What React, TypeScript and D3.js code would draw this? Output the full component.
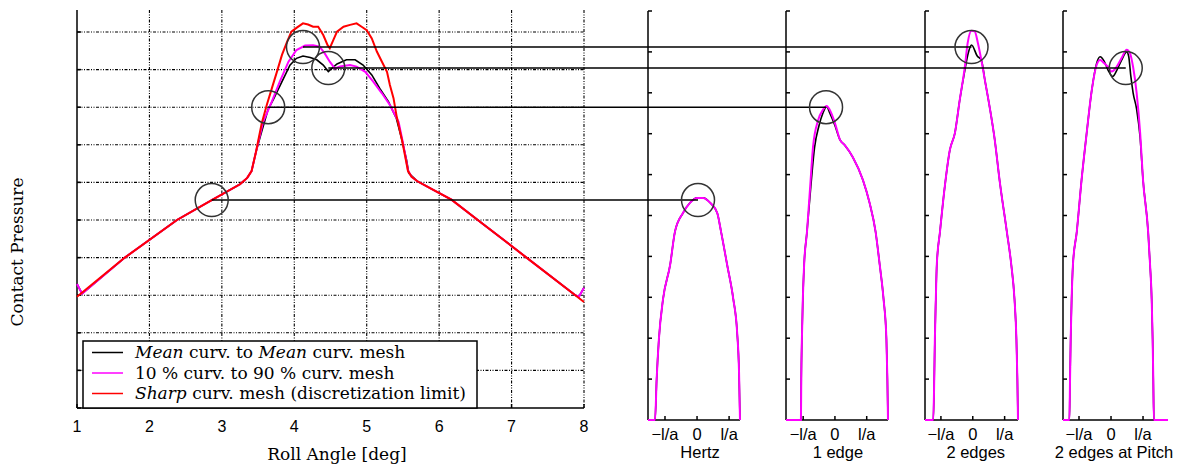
import React from 'react';
import * as d3 from 'd3';

const width = 1188;
const height = 465;

// main plot: contact pressure peak vs roll angle
const rollTicks = [1, 2, 3, 4, 5, 6, 7, 8];
const pressureGrid = [0, 1, 2, 3, 4, 5, 6, 7, 8, 9, 10];

const sharpCurv: [number, number][] = [
    [1, 2.96], [1.66, 4.0], [2.38, 5.0], [2.86, 5.53], [3.25, 5.95], [3.35, 6.12], [3.41, 6.3],
    [3.47, 6.8], [3.55, 7.57], [3.62, 8.06], [3.69, 8.5], [3.76, 8.94], [3.83, 9.39], [3.9, 9.74],
    [3.96, 10.01], [4.03, 10.11], [4.12, 10.23], [4.19, 10.2], [4.26, 10.14], [4.33, 10.14],
    [4.4, 9.92], [4.46, 9.65], [4.49, 9.57], [4.54, 9.79], [4.59, 10.01], [4.68, 10.14],
    [4.77, 10.19], [4.86, 10.23], [4.93, 10.14], [5.0, 10.05], [5.07, 9.83], [5.14, 9.48],
    [5.21, 9.21], [5.28, 8.94], [5.32, 8.59], [5.37, 8.24], [5.41, 7.79], [5.44, 7.53],
    [5.49, 7.1], [5.53, 6.7], [5.57, 6.3], [5.62, 6.15], [5.7, 6.03], [5.9, 5.82], [6.17, 5.54],
    [6.56, 4.96], [7.22, 3.98], [7.88, 3.0], [8, 2.82],
];

const tenNinetyCurv: [number, number][] = [
    [1, 3.3], [1.07, 3.04], [1.66, 4.0], [2.38, 5.0], [2.86, 5.53], [3.25, 5.95], [3.35, 6.12],
    [3.41, 6.3], [3.47, 6.8], [3.57, 7.61], [3.69, 8.15], [3.8, 8.68], [3.92, 9.21], [4.03, 9.52],
    [4.15, 9.64], [4.26, 9.65], [4.35, 9.61], [4.42, 9.43], [4.49, 9.21], [4.56, 9.03],
    [4.63, 9.08], [4.77, 9.12], [4.86, 9.08], [4.98, 8.94], [5.09, 8.68], [5.21, 8.37],
    [5.32, 8.06], [5.44, 7.61], [5.49, 7.15], [5.53, 6.75], [5.57, 6.32], [5.62, 6.15],
    [5.7, 6.03], [5.9, 5.82], [6.17, 5.54], [6.56, 4.96], [7.22, 3.98], [7.88, 3.0], [7.93, 2.96], [8, 3.2],
];

const meanCurv: [number, number][] = [
    [1, 3.3], [1.07, 3.04], [1.66, 4.0], [2.38, 5.0], [2.86, 5.53], [3.25, 5.95], [3.35, 6.12],
    [3.41, 6.3], [3.47, 6.8], [3.55, 7.35], [3.64, 7.95], [3.71, 8.2], [3.83, 8.68], [3.94, 9.12],
    [4.03, 9.3], [4.12, 9.36], [4.22, 9.32], [4.31, 9.26], [4.4, 9.12], [4.47, 8.95], [4.53, 9.05],
    [4.59, 9.15], [4.72, 9.26], [4.84, 9.26], [4.95, 9.12], [5.07, 8.86], [5.18, 8.5], [5.3, 8.15],
    [5.41, 7.7], [5.49, 7.1], [5.55, 6.6], [5.58, 6.25], [5.7, 6.03], [5.9, 5.82], [6.17, 5.54],
    [6.56, 4.96], [7.22, 3.98], [7.88, 3.0], [7.93, 2.96], [8, 3.2],
];

// sampled roll angles, shown as pressure profiles on the right
const sampleRolls = [2.86, 3.64, 4.12, 4.47];
const samplePressures = [5.53, 8.0, 9.6, 9.04];
const samplePeakPos = [0.03, -0.28, -0.04, 0.46];

// profiles, x in l/a, pressure in panel units
const hertzTen: [number, number][] = [
    [-1.53, 0], [-1.31, 0], [-1.26, 1.0], [-1.19, 1.98], [-1.06, 2.96], [-0.84, 3.79], [-0.69, 4.6],
    [-0.44, 5.06], [-0.22, 5.31], [0, 5.43], [0.19, 5.43], [0.41, 5.31], [0.63, 5.06], [0.75, 4.6],
    [0.94, 3.79], [1.13, 2.96], [1.25, 2.15], [1.31, 1.17], [1.34, 0],
];
const hertzMean = hertzTen;

const oneEdgeTen: [number, number][] = [
    [-1.54, 0], [-1.07, 0], [-1.06, 1.0], [-1.04, 1.98], [-1.01, 2.96], [-0.97, 3.79], [-0.88, 4.6],
    [-0.78, 5.7], [-0.69, 6.67], [-0.53, 7.33], [-0.38, 7.58], [-0.26, 7.68], [-0.16, 7.58],
    [0, 7.26], [0.16, 6.85], [0.31, 6.72], [0.56, 6.43], [0.88, 5.87], [1.09, 5.31], [1.28, 4.6],
    [1.41, 3.79], [1.53, 2.96], [1.62, 1.98], [1.65, 1.0], [1.67, 0],
];
const oneEdgeMean: [number, number][] = [
    [-1.54, 0], [-1.07, 0], [-1.06, 1.0], [-1.04, 1.98], [-1.01, 2.96], [-0.97, 3.79], [-0.88, 4.6],
    [-0.76, 5.7], [-0.64, 6.67], [-0.5, 7.2], [-0.38, 7.5], [-0.26, 7.66], [-0.16, 7.5],
    [0, 7.2], [0.16, 6.85], [0.31, 6.72], [0.56, 6.43], [0.88, 5.87], [1.09, 5.31], [1.28, 4.6],
    [1.41, 3.79], [1.53, 2.96], [1.62, 1.98], [1.65, 1.0], [1.67, 0],
];

const twoEdgesTen: [number, number][] = [
    [-1.5, 0], [-1.24, 0], [-1.21, 1.0], [-1.19, 1.98], [-1.16, 2.96], [-1.13, 3.79], [-1.03, 4.6],
    [-0.88, 5.7], [-0.72, 6.6], [-0.56, 7.02], [-0.41, 7.82], [-0.25, 8.63], [-0.16, 9.22],
    [-0.04, 9.52], [0.06, 9.5], [0.16, 9.22], [0.27, 8.8], [0.38, 8.31], [0.53, 7.65], [0.69, 6.85],
    [0.84, 5.87], [1.07, 4.6], [1.21, 3.79], [1.31, 2.96], [1.37, 1.98], [1.4, 1.0], [1.42, 0],
];
const twoEdgesMean: [number, number][] = [
    [-1.5, 0], [-1.24, 0], [-1.21, 1.0], [-1.19, 1.98], [-1.16, 2.96], [-1.13, 3.79], [-1.03, 4.6],
    [-0.88, 5.7], [-0.72, 6.6], [-0.56, 7.02], [-0.41, 7.82], [-0.25, 8.55], [-0.14, 8.98],
    [-0.04, 9.17], [0.14, 8.9], [0.27, 8.8], [0.38, 8.31], [0.53, 7.65], [0.69, 6.85],
    [0.84, 5.87], [1.07, 4.6], [1.21, 3.79], [1.31, 2.96], [1.37, 1.98], [1.4, 1.0], [1.42, 0],
];

const pitchTen: [number, number][] = [
    [-1.5, 0], [-1.3, 0], [-1.28, 1.0], [-1.26, 1.98], [-1.23, 2.96], [-1.19, 3.79], [-1.07, 4.6],
    [-0.92, 5.87], [-0.76, 7.02], [-0.6, 8.07], [-0.45, 8.68], [-0.34, 8.8], [-0.22, 8.73],
    [-0.09, 8.63], [0.02, 8.52], [0.18, 8.64], [0.33, 8.85], [0.49, 9.05], [0.59, 8.97],
    [0.69, 8.63], [0.8, 8.0], [0.91, 7.02], [1.0, 5.87], [1.16, 4.6], [1.22, 3.79], [1.27, 2.96],
    [1.3, 1.98], [1.32, 1.0], [1.34, 0], [1.78, 0],
];
const pitchMean: [number, number][] = [
    [-1.5, 0], [-1.3, 0], [-1.28, 1.0], [-1.26, 1.98], [-1.23, 2.96], [-1.19, 3.79], [-1.07, 4.6],
    [-0.92, 5.87], [-0.76, 7.02], [-0.6, 8.07], [-0.45, 8.72], [-0.34, 8.88], [-0.22, 8.78],
    [-0.09, 8.55], [0.05, 8.4], [0.18, 8.55], [0.33, 8.8], [0.49, 9.0], [0.55, 8.9], [0.62, 8.4],
    [0.69, 8.0], [0.8, 7.6], [0.91, 6.9], [1.0, 5.87], [1.16, 4.6], [1.22, 3.79], [1.27, 2.96],
    [1.3, 1.98], [1.32, 1.0], [1.34, 0], [1.78, 0],
];

const panelTitles = ['Hertz', '1 edge', '2 edges', '2 edges at Pitch'];
const panelMean = [hertzMean, oneEdgeMean, twoEdgesMean, pitchMean];
const panelTen = [hertzTen, oneEdgeTen, twoEdgesTen, pitchTen];
const panelTicks = [-1, 0, 1];
const panelTickLabels = ['\u2212l/a', '0', 'l/a'];
const panelPressureTicks = [0, 1, 2, 3, 4, 5, 6, 7, 8, 9, 10];

const legendColors = ['#000000', '#ff00ff', '#ff0000'];

// layout
const main = { left: 77, right: 584, top: 10, bottom: 408 };
const panelPix = [[648, 740], [786, 888], [925, 1018], [1063, 1168]];
const panelTop = 11;
const panelBottom = 420;
const serif = '"DejaVu Serif", serif';
const serifSize = 17;
const sans = '"Liberation Sans", Arial, sans-serif';
const circleR = 16.5;

const xMain = d3.scaleLinear().domain([1, 8]).range([main.left, main.right]);
const yMain = d3.scaleLinear().domain([0, 10]).range([main.bottom, 32]);
const yPanel = d3.scaleLinear().domain([0, 10]).range([panelBottom, panelTop]);

function panelScale(i: number) {
    const data = panelTen[i];
    return d3.scaleLinear().domain([data[0][0], data[data.length - 1][0]]).range(panelPix[i]);
}

const gridDash = '3,1.5,1,1.5,1,1.5';

export default function App() {
    const mainLine = d3.line<[number, number]>().x(d => xMain(d[0])).y(d => yMain(d[1]));

    return (
        <svg width={width} height={height} style={{ position: 'absolute', left: 0, top: 0, background: '#fff' }}>
            {/* main grid */}
            <g stroke="#000" strokeWidth={1.1} strokeDasharray={gridDash}>
                {rollTicks.slice(1).map(t => (
                    <line key={'v' + t} x1={xMain(t)} x2={xMain(t)} y1={main.top} y2={main.bottom} />
                ))}
                {pressureGrid.slice(1).map(t => (
                    <line key={'h' + t} x1={main.left} x2={main.right} y1={yMain(t)} y2={yMain(t)} />
                ))}
            </g>

            {/* main axes */}
            <g stroke="#000" strokeWidth={1.5}>
                <line x1={main.left} x2={main.left} y1={main.top} y2={main.bottom} />
                <line x1={main.left} x2={main.right} y1={main.bottom} y2={main.bottom} />
                {pressureGrid.map(t => (
                    <line key={'yt' + t} x1={main.left} x2={main.left + 4} y1={yMain(t)} y2={yMain(t)} />
                ))}
                {rollTicks.map(t => (
                    <line key={'xt' + t} x1={xMain(t)} x2={xMain(t)} y1={main.bottom} y2={main.bottom - 4} />
                ))}
            </g>
            {rollTicks.map(t => (
                <text key={'xl' + t} x={xMain(t)} y={432} textAnchor="middle" fontFamily={sans} fontSize={16}>
                    {t}
                </text>
            ))}
            <text x={337} y={460} textAnchor="middle" fontFamily={serif} fontSize={serifSize}>Roll Angle [deg]</text>
            <text transform="translate(23,252) rotate(-90)" textAnchor="middle" fontFamily={serif} fontSize={serifSize}>
                Contact Pressure
            </text>

            {/* main curves */}
            <path d={mainLine(meanCurv) || ''} fill="none" stroke="#000" strokeWidth={1.6} />
            <path d={mainLine(tenNinetyCurv) || ''} fill="none" stroke="#ff00ff" strokeWidth={2} />
            <path d={mainLine(sharpCurv) || ''} fill="none" stroke="#ff0000" strokeWidth={2} />

            {/* profile panels */}
            {panelTitles.map((title, i) => {
                const xp = panelScale(i);
                const line = d3.line<[number, number]>().x(d => xp(d[0])).y(d => yPanel(d[1])).curve(d3.curveMonotoneX);
                const [x0, x1] = panelPix[i];
                return (
                    <g key={title}>
                        <g stroke="#000" strokeWidth={1.5}>
                            <line x1={x0} x2={x0} y1={panelTop} y2={panelBottom} />
                            <line x1={x0} x2={x1} y1={panelBottom} y2={panelBottom} />
                            {panelPressureTicks.map(t => (
                                <line key={t} x1={x0} x2={x0 + 4} y1={yPanel(t)} y2={yPanel(t)} />
                            ))}
                            {panelTicks.map(t => (
                                <line key={'pt' + t} x1={xp(t)} x2={xp(t)} y1={panelBottom} y2={panelBottom - 4} />
                            ))}
                        </g>
                        <path d={line(panelMean[i]) || ''} fill="none" stroke="#000" strokeWidth={1.6} />
                        <path d={line(panelTen[i]) || ''} fill="none" stroke="#ff00ff" strokeWidth={2} />
                        {panelTicks.map((t, k) => (
                            <text key={'pl' + t} x={xp(t)} y={440} textAnchor="middle" fontFamily={sans} fontSize={16.5}>
                                {panelTickLabels[k]}
                            </text>
                        ))}
                        <text x={xp(0) + 3} y={458} textAnchor="middle" fontFamily={sans} fontSize={16.5}>{title}</text>
                    </g>
                );
            })}

            {/* connectors and sample circles */}
            {sampleRolls.map((r, i) => {
                const xp = panelScale(i);
                const y = yMain(samplePressures[i]);
                return (
                    <g key={'s' + i} fill="none">
                        <line x1={xMain(r)} x2={xp(samplePeakPos[i])} y1={y} y2={y} stroke="#000" strokeWidth={1.5} />
                        <circle cx={xMain(r)} cy={y} r={circleR} stroke="#333" strokeWidth={1.5} />
                        <circle cx={xp(samplePeakPos[i])} cy={y} r={circleR} stroke="#333" strokeWidth={1.5} />
                    </g>
                );
            })}

            {/* legend */}
            <rect x={83} y={341} width={394} height={main.bottom - 341} fill="#fff" stroke="#000" strokeWidth={1.5} />
            {legendColors.map((c, i) => (
                <line key={c} x1={92} x2={123} y1={352.5 + i * 20.5} y2={352.5 + i * 20.5} stroke={c} strokeWidth={1.5} />
            ))}
            <text x={135} y={358} fontFamily={serif} fontSize={serifSize}>
                <tspan fontStyle="italic">Mean</tspan> curv. to <tspan fontStyle="italic">Mean</tspan> curv. mesh
            </text>
            <text x={135} y={378.5} fontFamily={serif} fontSize={serifSize}>10 % curv. to 90 % curv. mesh</text>
            <text x={135} y={399} fontFamily={serif} fontSize={serifSize}>
                <tspan fontStyle="italic">Sharp</tspan> curv. mesh (discretization limit)
            </text>
        </svg>
    );
}
